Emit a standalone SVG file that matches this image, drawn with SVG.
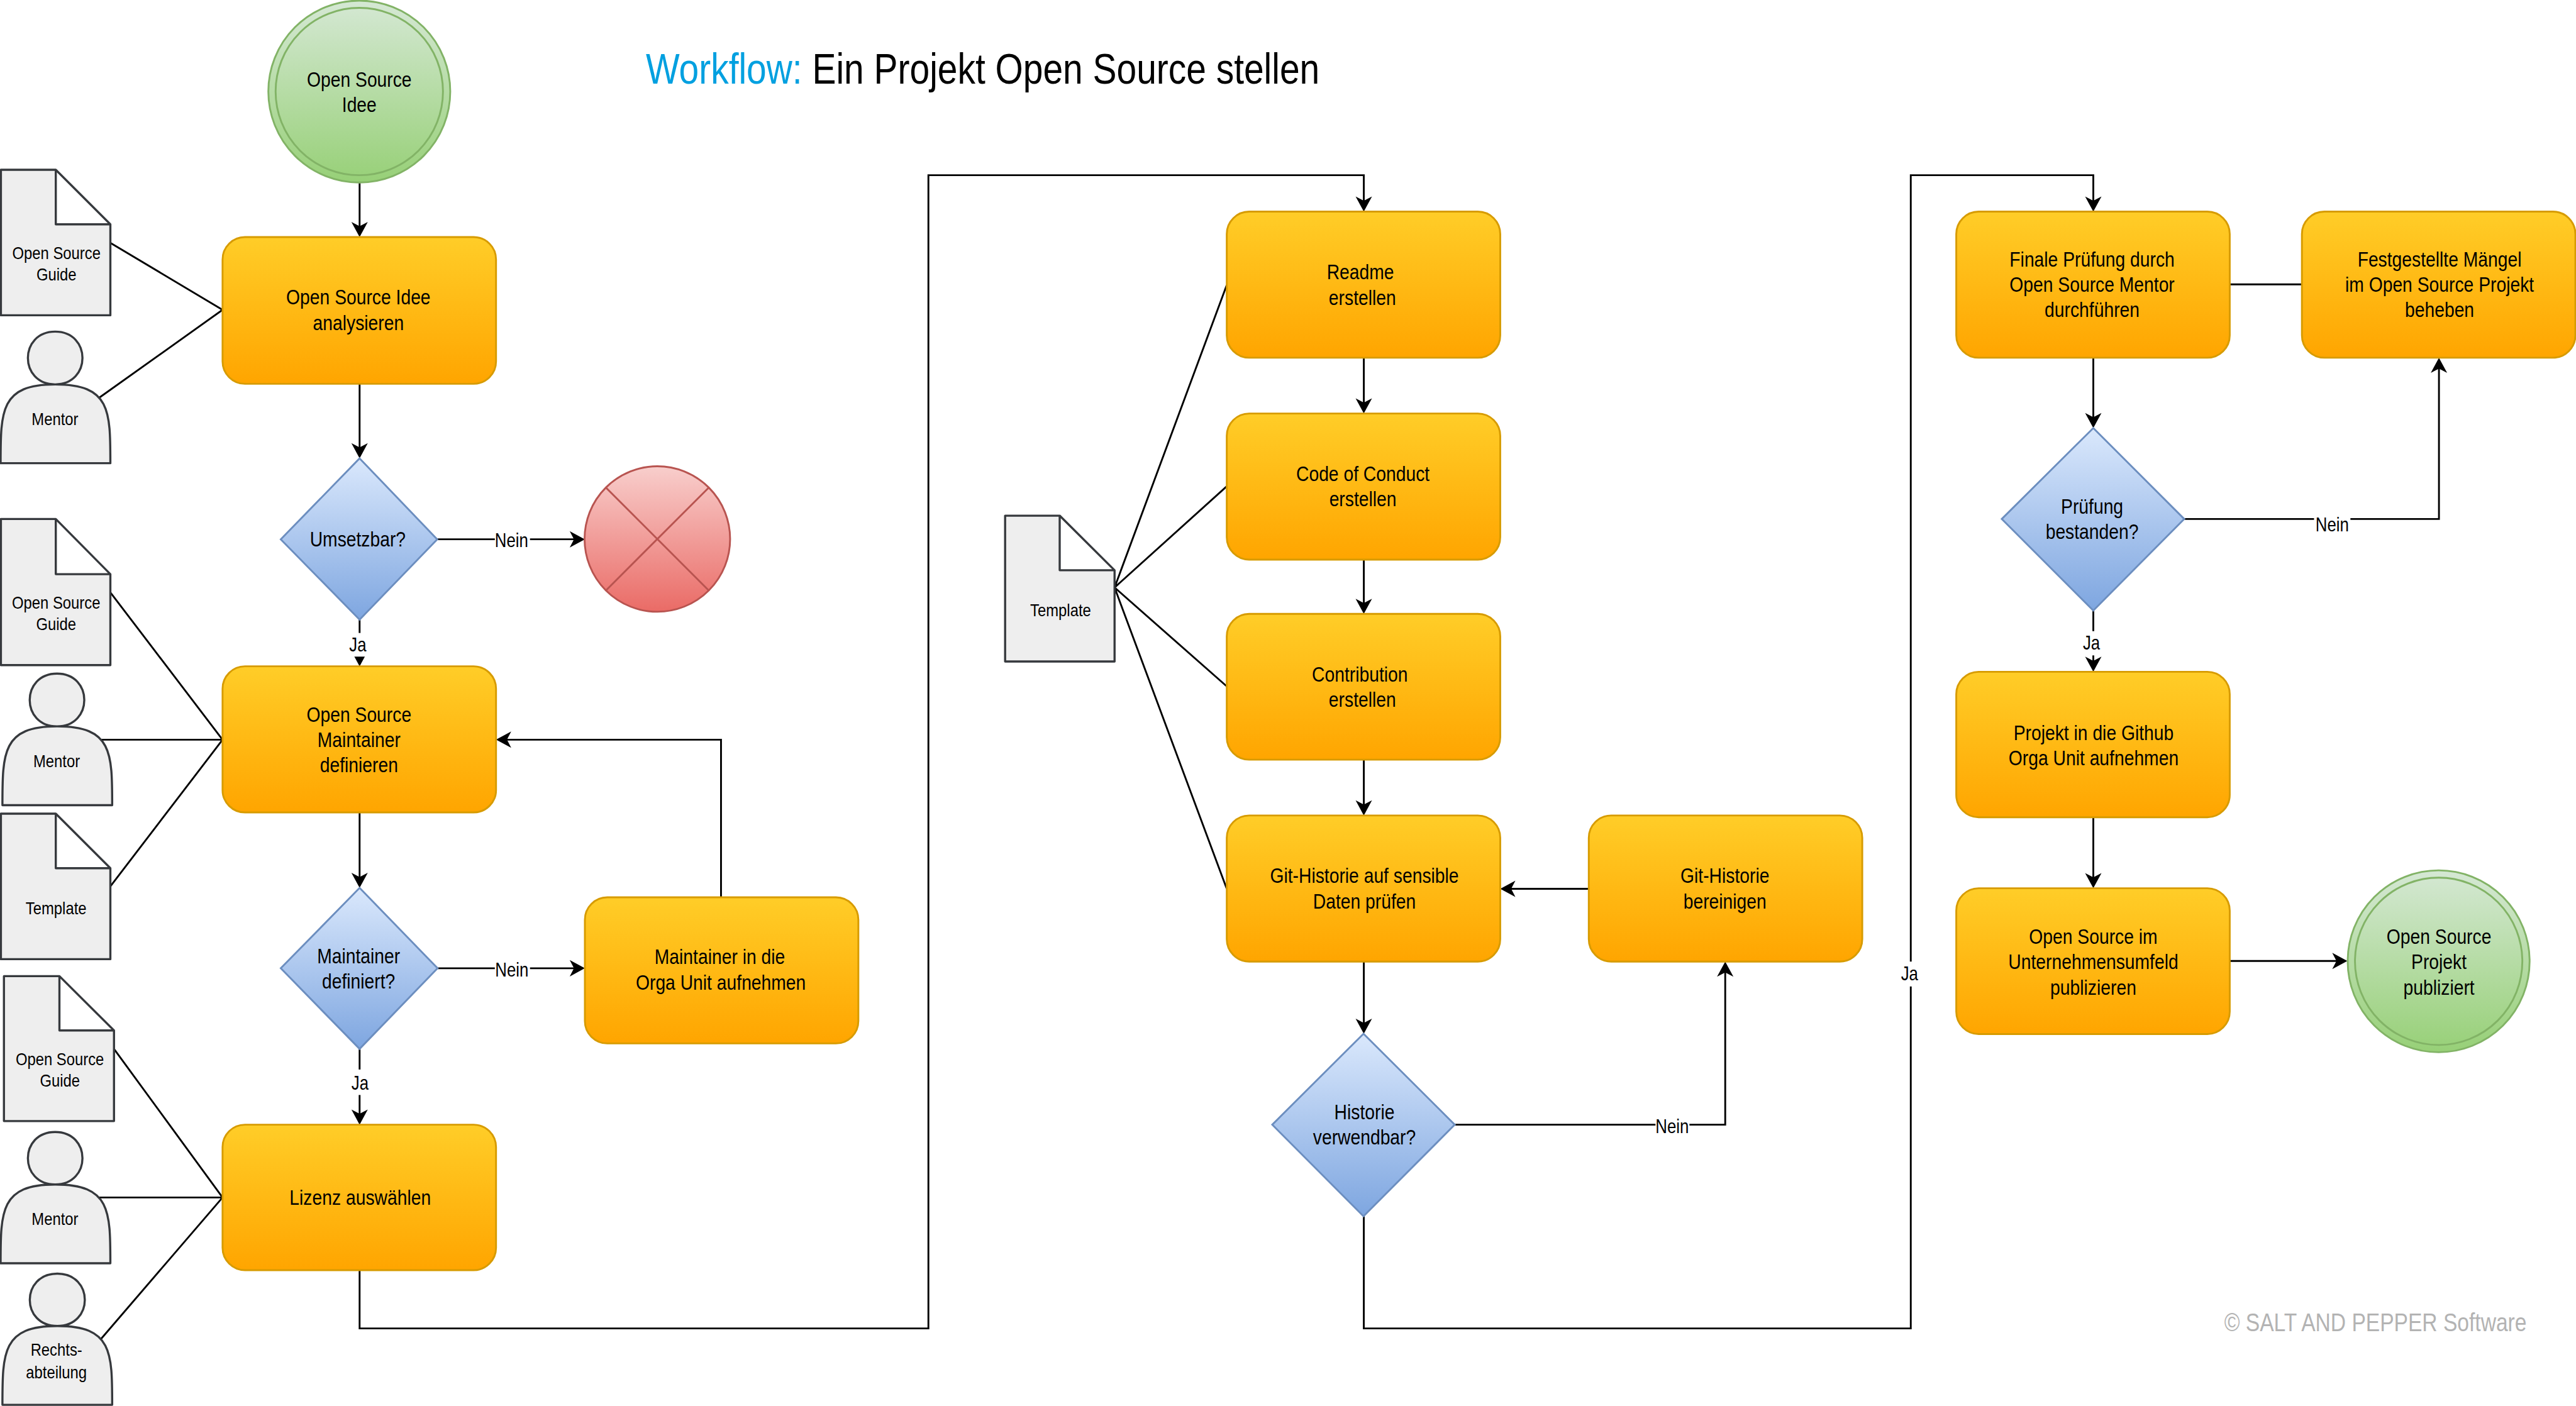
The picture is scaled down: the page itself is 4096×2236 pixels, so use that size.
<svg xmlns="http://www.w3.org/2000/svg" width="4096" height="2236" viewBox="0 0 4096 2236">
<style>
text{font-family:"Liberation Sans",Arial,sans-serif;fill:#000;text-anchor:middle}
.f35{font-size:35px;translate:0 -1px}.f29{font-size:29.5px;translate:0 -1.5px}.f32{font-size:32px}
.title{font-size:72px;text-anchor:start}
.foot{font-size:43px;fill:#b3b3b3;text-anchor:start}
.or{fill:url(#gOr);stroke:#d79b00;stroke-width:3}
.bl{fill:url(#gBl);stroke:#6c8ebf;stroke-width:3}
.gr{fill:url(#gGr);stroke:#82b366;stroke-width:3}
.rd{fill:url(#gRd);stroke:#b85450;stroke-width:3}
.gy{fill:#eee;stroke:#36393d;stroke-width:3.5;stroke-linejoin:round}
.ring{fill:none;stroke:#82b366;stroke-width:3}
.ln{fill:none;stroke:#000;stroke-width:3}
.ar{fill:none;stroke:#000;stroke-width:3;marker-end:url(#arr)}
.bg{fill:#fff}
</style>
<defs>
<linearGradient id="gOr" x1="0" y1="0" x2="0" y2="1"><stop offset="0" stop-color="#ffcd28"/><stop offset="1" stop-color="#ffa500"/></linearGradient>
<linearGradient id="gBl" x1="0" y1="0" x2="0" y2="1"><stop offset="0" stop-color="#dae8fc"/><stop offset="1" stop-color="#7ea6e0"/></linearGradient>
<linearGradient id="gGr" x1="0" y1="0" x2="0" y2="1"><stop offset="0" stop-color="#d5e8d4"/><stop offset="1" stop-color="#97d077"/></linearGradient>
<linearGradient id="gRd" x1="0" y1="0" x2="0" y2="1"><stop offset="0" stop-color="#f8cecc"/><stop offset="1" stop-color="#ea6b66"/></linearGradient>
<marker id="arr" markerUnits="userSpaceOnUse" markerWidth="30" markerHeight="30" viewBox="0 0 30 30" refX="20" refY="15" orient="auto" overflow="visible"><path d="M1 1.5L26 15L1 28.5L8 15Z" fill="#000"/></marker>
</defs>
<g transform="scale(.96422)">
<g id="title"><text class="title" transform="translate(1065 0) scale(.82 1)" y="137.5"><tspan fill="#00a0e0" style="fill:#00a0e0">Workflow:</tspan> Ein Projekt Open Source stellen</text></g>
<g id="copyright"><text class="foot" transform="translate(3668 0) scale(.81 1)" y="2196">© SALT AND PEPPER Software</text></g>

<g id="connectors">
<path class="ar" d="M593 302V385"/>
<path class="ar" d="M593 633V750"/>
<path class="ar" d="M593 1022V1093"/>
<path class="ar" d="M721 889.5H958.5"/>
<path class="ar" d="M593 1340V1458.5"/>
<path class="ar" d="M1189 1480V1220H824"/>
<path class="ar" d="M721.6 1597H958.5"/>
<path class="ar" d="M593 1730V1849"/>
<path class="ar" d="M593 2095V2191H1531V289H2249V343"/>
<path class="ar" d="M2249 590V676"/>
<path class="ar" d="M2249 923V1006.5"/>
<path class="ar" d="M2249 1253V1339"/>
<path class="ar" d="M2249 1586V1699"/>
<path class="ar" d="M2620 1466H2480"/>
<path class="ar" d="M2399 1855H2845V1592"/>
<path class="ar" d="M2249 2006V2191H3151V289H3452V343"/>
<path class="ar" d="M3452 590V700"/>
<path class="ar" d="M3452 1007V1102"/>
<path class="ar" d="M3452 1348V1459"/>
<path class="ar" d="M3602 856H4022V596"/>
<path class="ar" d="M3677 1585H3865"/>
<path class="ln" d="M3677 469H3796"/>
<path class="ln" d="M182 400.5L367 511M163.6 656L367 511"/>
<path class="ln" d="M182 977L367 1220M166 1220H367M182 1462L367 1220"/>
<path class="ln" d="M188 1730L367 1975M163.6 1975H367M166 2209L367 1975"/>
<path class="ln" d="M1838 969L2023 470M1838 969L2023 802M1838 969L2023 1132M1838 969L2023 1466"/>
<rect class="bg" x="577" y="1044" width="30" height="39"/><text class="f32" transform="translate(590 0) scale(.838 1)" y="1074">Ja</text>
<rect class="bg" x="816" y="870" width="58" height="40"/><text class="f32" transform="translate(843.5 0) scale(.838 1)" y="902">Nein</text>
<rect class="bg" x="816" y="1578" width="58" height="40"/><text class="f32" transform="translate(844 0) scale(.838 1)" y="1611">Nein</text>
<rect class="bg" x="578" y="1764" width="31" height="42"/><text class="f32" transform="translate(593.6 0) scale(.838 1)" y="1797">Ja</text>
<rect class="bg" x="2730" y="1838" width="56" height="38"/><text class="f32" transform="translate(2757.5 0) scale(.838 1)" y="1869">Nein</text>
<rect class="bg" x="3134" y="1586" width="30" height="41"/><text class="f32" transform="translate(3149 0) scale(.838 1)" y="1617">Ja</text>
<rect class="bg" x="3816" y="845" width="60" height="40"/><text class="f32" transform="translate(3846 0) scale(.838 1)" y="876">Nein</text>
<rect class="bg" x="3435" y="1041" width="30" height="40"/><text class="f32" transform="translate(3449 0) scale(.838 1)" y="1071">Ja</text>
</g>

<g id="start"><circle class="gr" cx="592.5" cy="151" r="150"/><circle class="ring" cx="592.5" cy="151" r="138"/><text class="f35" transform="translate(592.5 0) scale(.838 1)"><tspan x="0" y="144">Open Source</tspan><tspan x="0" y="186">Idee</tspan></text></g>

<g id="doc1"><path class="gy" d="M1.5 280H92L182 370V520H1.5ZM92 280V370H182"/><text class="f29" transform="translate(93 0) scale(.838 1)"><tspan x="0" y="428.6">Open Source</tspan><tspan x="0" y="464">Guide</tspan></text></g>
<g id="mentor1"><path class="gy" d="M1 764C1 677 1 634 91 634C31 634 31 547 91 547C151 547 151 634 91 634C182 634 182 677 182 764Z"/><text class="f29" transform="translate(90.7 0) scale(.838 1)" y="703">Mentor</text></g>
<g id="analyse"><rect class="or" x="367" y="391" width="451" height="242" rx="37"/><text class="f35" transform="translate(591 0) scale(.838 1)"><tspan x="0" y="502.5">Open Source Idee</tspan><tspan x="0" y="545">analysieren</tspan></text></g>
<g id="umsetzbar"><path class="bl" d="M593 756L721 889.5L593 1022L463 889.5Z"/><text class="f35" transform="translate(590 0) scale(.838 1)" y="902">Umsetzbar?</text></g>
<g id="abort"><circle class="rd" cx="1084" cy="889" r="120"/><path d="M999 804L1169 974M1169 804L999 974" fill="none" stroke="#b85450" stroke-width="3"/></g>

<g id="doc2"><path class="gy" d="M1.5 856H92L182 947V1097H1.5ZM92 856V947H182"/><text class="f29" transform="translate(92.5 0) scale(.838 1)"><tspan x="0" y="1005">Open Source</tspan><tspan x="0" y="1041">Guide</tspan></text></g>
<g id="mentor2"><path class="gy" d="M4 1328C4 1241 4 1198 94 1198C34 1198 34 1111 94 1111C154 1111 154 1198 94 1198C185 1198 185 1241 185 1328Z"/><text class="f29" transform="translate(93.4 0) scale(.838 1)" y="1266.5">Mentor</text></g>
<g id="doc3"><path class="gy" d="M1.5 1342H92L182 1432V1582H1.5ZM92 1342V1432H182"/><text class="f29" transform="translate(92.5 0) scale(.838 1)" y="1509">Template</text></g>
<g id="maintainer"><rect class="or" x="367" y="1099" width="451" height="241" rx="37"/><text class="f35" transform="translate(592 0) scale(.838 1)"><tspan x="0" y="1191.5">Open Source</tspan><tspan x="0" y="1233">Maintainer</tspan><tspan x="0" y="1275">definieren</tspan></text></g>
<g id="maintainer-q"><path class="bl" d="M593 1464.5L721.6 1597L593 1730L463 1597Z"/><text class="f35" transform="translate(591.3 0) scale(.838 1)"><tspan x="0" y="1590">Maintainer</tspan><tspan x="0" y="1631">definiert?</tspan></text></g>
<g id="orga"><rect class="or" x="964.5" y="1480" width="451" height="241" rx="37"/><text class="f35" transform="translate(1187 0) scale(.838 1)"><tspan x="0" y="1590.5">Maintainer in die</tspan><tspan x="2" y="1633">Orga Unit aufnehmen</tspan></text></g>

<g id="doc4"><path class="gy" d="M6.5 1610H98L188 1699.5V1849H6.5ZM98 1610V1699.5H188"/><text class="f29" transform="translate(98.7 0) scale(.838 1)"><tspan x="0" y="1758.6">Open Source</tspan><tspan x="0" y="1794">Guide</tspan></text></g>
<g id="mentor3"><path class="gy" d="M1 2083.5C1 1997 1 1953.6 91 1953.6C31 1953.6 31 1867 91 1867C151 1867 151 1953.6 91 1953.6C182 1953.6 182 1997 182 2083.5Z"/><text class="f29" transform="translate(90.7 0) scale(.838 1)" y="2022">Mentor</text></g>
<g id="recht"><path class="gy" d="M4 2317C4 2230 4 2187 94.5 2187C34 2187 34 2100.7 94.5 2100.7C155 2100.7 155 2187 94.5 2187C185 2187 185 2230 185 2317Z"/><text class="f29" transform="translate(93 0) scale(.838 1)"><tspan x="0" y="2238">Rechts-</tspan><tspan x="0" y="2274.6">abteilung</tspan></text></g>
<g id="lizenz"><rect class="or" x="367" y="1855" width="451" height="240" rx="37"/><text class="f35" transform="translate(594 0) scale(.838 1)" y="1988">Lizenz auswählen</text></g>

<g id="template"><path class="gy" d="M1657.5 850.5H1747.5L1838 940.5V1091H1657.5ZM1747.5 850.5V940.5H1838"/><text class="f29" transform="translate(1749 0) scale(.838 1)" y="1017.6">Template</text></g>
<g id="readme"><rect class="or" x="2023" y="349" width="451" height="241" rx="37"/><text class="f35" transform="translate(2245 0) scale(.838 1)"><tspan x="-2" y="461.5">Readme</tspan><tspan x="2" y="503.6">erstellen</tspan></text></g>
<g id="code"><rect class="or" x="2023" y="682" width="451" height="241" rx="37"/><text class="f35" transform="translate(2247.5 0) scale(.838 1)"><tspan x="0" y="794.4">Code of Conduct</tspan><tspan x="0" y="836">erstellen</tspan></text></g>
<g id="contribution"><rect class="or" x="2023" y="1012.5" width="451" height="240.5" rx="37"/><text class="f35" transform="translate(2245 0) scale(.838 1)"><tspan x="-3" y="1125">Contribution</tspan><tspan x="2" y="1167">erstellen</tspan></text></g>
<g id="git"><rect class="or" x="2023" y="1345" width="451" height="241" rx="37"/><text class="f35" transform="translate(2250 0) scale(.838 1)"><tspan x="0" y="1457.5">Git-Historie auf sensible</tspan><tspan x="0" y="1500">Daten prüfen</tspan></text></g>
<g id="bereinigen"><rect class="or" x="2620" y="1345" width="451" height="241" rx="37"/><text class="f35" transform="translate(2844.5 0) scale(.838 1)"><tspan x="0" y="1457.5">Git-Historie</tspan><tspan x="0" y="1500">bereinigen</tspan></text></g>
<g id="historie"><path class="bl" d="M2248.5 1705L2399 1855L2248.5 2006L2098 1855Z"/><text class="f35" transform="translate(2250 0) scale(.838 1)"><tspan x="0" y="1847">Historie</tspan><tspan x="0" y="1889">verwendbar?</tspan></text></g>

<g id="finale"><rect class="or" x="3226" y="349" width="451" height="241" rx="37"/><text class="f35" transform="translate(3450 0) scale(.838 1)"><tspan x="0" y="440.6">Finale Prüfung durch</tspan><tspan x="0" y="482.5">Open Source Mentor</tspan><tspan x="0" y="524">durchführen</tspan></text></g>
<g id="maengel"><rect class="or" x="3796" y="349" width="451" height="241" rx="37"/><text class="f35" transform="translate(4023 0) scale(.838 1)"><tspan x="0" y="440.6">Festgestellte Mängel</tspan><tspan x="0" y="482.5">im Open Source Projekt</tspan><tspan x="0" y="524">beheben</tspan></text></g>
<g id="pruefung"><path class="bl" d="M3452 706L3602 856L3452 1007L3301 856Z"/><text class="f35" transform="translate(3450 0) scale(.838 1)"><tspan x="0" y="848.7">Prüfung</tspan><tspan x="0" y="890">bestanden?</tspan></text></g>
<g id="github"><rect class="or" x="3226" y="1108" width="451" height="240" rx="37"/><text class="f35" transform="translate(3452.5 0) scale(.838 1)"><tspan x="0" y="1221.5">Projekt in die Github</tspan><tspan x="0" y="1263">Orga Unit aufnehmen</tspan></text></g>
<g id="publizieren"><rect class="or" x="3226" y="1465" width="451" height="240.5" rx="37"/><text class="f35" transform="translate(3452 0) scale(.838 1)"><tspan x="0" y="1557.5">Open Source im</tspan><tspan x="0" y="1599.5">Unternehmensumfeld</tspan><tspan x="0" y="1642">publizieren</tspan></text></g>
<g id="end"><circle class="gr" cx="4021.5" cy="1585.5" r="150"/><circle class="ring" cx="4021.5" cy="1585.5" r="138"/><text class="f35" transform="translate(4022 0) scale(.838 1)"><tspan x="0" y="1557.5">Open Source</tspan><tspan x="0" y="1599.5">Projekt</tspan><tspan x="0" y="1642">publiziert</tspan></text></g>
</g>
</svg>
